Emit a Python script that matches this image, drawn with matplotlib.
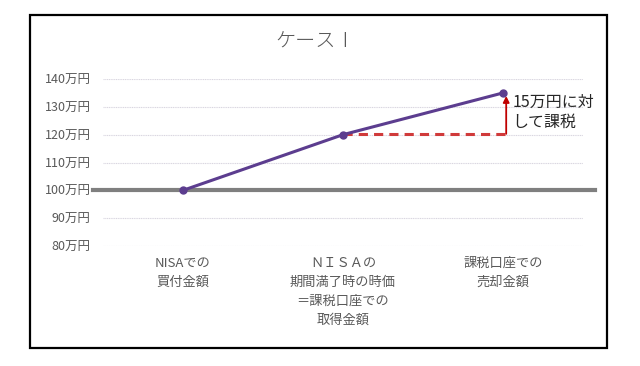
import matplotlib
matplotlib.use("Agg")
import matplotlib.pyplot as plt
from matplotlib.patches import Rectangle

plt.rcParams['font.family'] = ['Noto Sans CJK JP', 'DejaVu Sans']

categories = ["NISAでの\n買付金額", "ＮＩＳＡの\n期間満了時の時価\n＝課税口座での\n取得金額", "課税口座での\n売却金額"]
values = [100, 120, 135]
yticks = [80, 90, 100, 110, 120, 130, 140]
ytick_labels = ["80万円", "90万円", "100万円", "110万円", "120万円", "130万円", "140万円"]
base_value = 100
dash_level = 120.3
arrow_top = 133.9
note = "15万円に対\nして課税"

fig = plt.figure(figsize=(6.4, 3.66), dpi=100)
W, H = 640, 366
ax = fig.add_axes([103 / W, 1 - 246 / H, 480 / W, (246 - 79) / H])

xs = list(range(len(categories)))
for sp in ax.spines.values():
    sp.set_visible(False)
ax.set_xlim(-0.5, 2.5)
ax.set_ylim(80, 140)
ax.set_yticks(yticks)
ax.set_yticklabels(ytick_labels, color="#595959", fontsize=9)
ax.tick_params(axis='y', length=0, pad=9)
ax.set_xticks(xs)
ax.set_xticklabels(categories, color="#595959", fontsize=9.5, linespacing=1.6, va='top')
ax.tick_params(axis='x', length=0, pad=8)
ax.grid(axis='y', color="#d9d6e0", linewidth=0.8, linestyle=(0, (1, 0.6)))
ax.set_axisbelow(True)

ax.axhline(base_value, xmin=-0.021, xmax=1.025, color="#7f7f7f", linewidth=3, clip_on=False, zorder=2)

ax.plot([xs[1], 2.02], [dash_level, dash_level], color="#d03a3a", linewidth=2.2,
        linestyle=(0, (3, 2)), zorder=3)
ax.annotate("", xy=(2.02, arrow_top), xytext=(2.02, dash_level),
            arrowprops=dict(arrowstyle="-|>", color="#c00000", lw=1.3,
                            mutation_scale=9, shrinkA=0, shrinkB=0), zorder=4)
ax.text(2.06, 128.0, note, fontsize=11.5, color="#262626", va='center', ha='left', linespacing=1.2)

ax.plot(xs, values, color="#5c3d8f", linewidth=2.2, marker='o', markersize=5,
        markerfacecolor="#5c3d8f", markeredgecolor="#5c3d8f", zorder=5)

fig.text(316 / W, 1 - 42 / H, "ケースⅠ", fontsize=14.5, color="#595959", ha='center', va='center',
         fontweight='light')

fig.patches.append(Rectangle((30 / W, 1 - 348 / H), (607 - 30) / W, (348 - 15) / H,
                             transform=fig.transFigure, fill=False, edgecolor="black", linewidth=1.6))

fig.savefig("out.png", dpi=100)
